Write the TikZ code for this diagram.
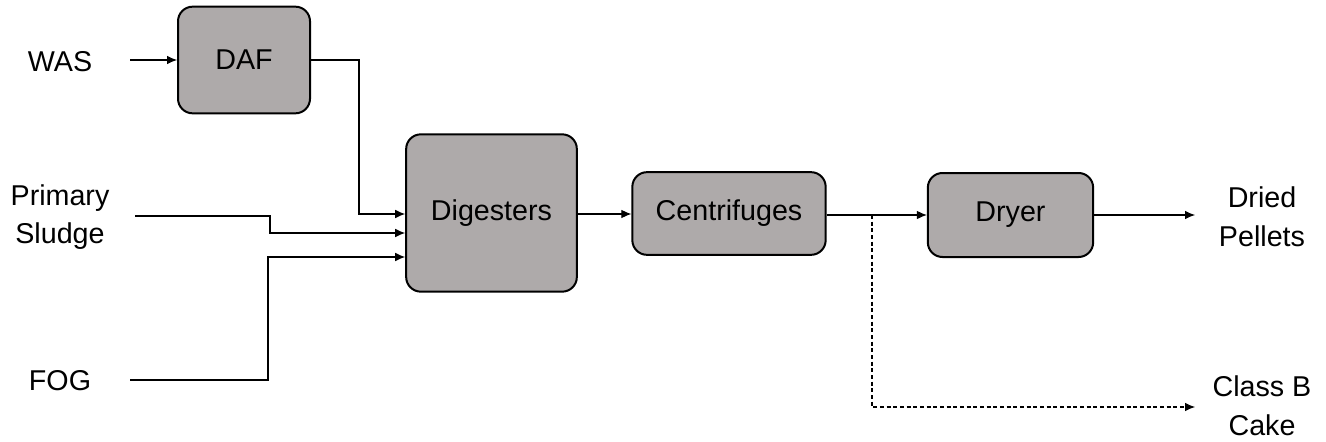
\documentclass[tikz,border=0pt]{standalone}
\usepackage{fontspec}
\setmainfont{Liberation Sans}
\usetikzlibrary{arrows.meta}
\begin{document}
\begin{tikzpicture}[x=0.75pt,y=-0.75pt,
  unit/.style={draw=black, line width=1.5pt, fill=boxgrey, rounded corners=11pt,
    inner sep=0pt, font=\fontsize{21.5}{26}\selectfont},
  lbl/.style={align=center, font=\fontsize{21.5}{29}\selectfont, inner sep=0pt},
  flow/.style={draw=black, line width=0.8pt, -{Latex[length=7.5pt,width=6.5pt]}},
  alt/.style={flow, dashed, dash pattern=on 3pt off 2pt}]
\definecolor{boxgrey}{HTML}{AEAAAA}
\useasboundingbox (0,0) rectangle (1326,442);

% process units
\node[unit, minimum width=99pt, minimum height=80pt] (daf) at (244,60) {DAF};
\node[unit, minimum width=128pt, minimum height=118pt] (dig) at (491.5,213) {Digesters};
\node[unit, minimum width=145pt, minimum height=62pt] (cen) at (729,213.5) {Centrifuges};
\node[unit, minimum width=124pt, minimum height=63pt] (dry) at (1010.5,215) {Dryer};

% feeds and products
\node[lbl] (was) at (60,62) {WAS};
\node[lbl] (ps) at (60,217) {Primary\\Sludge};
\node[lbl] (fog) at (60,381) {FOG};
\node[lbl] (dp) at (1262,217) {Dried\\Pellets};
\node[lbl] (cb) at (1262,406) {Class B\\Cake};

% connector end points
\coordinate (wasS) at (130,60);
\coordinate (psS) at (135,216);
\coordinate (fogS) at (130,380);
\coordinate (split) at (872,215);
\coordinate (dpE) at (1195,215);
\coordinate (cbE) at (1195,407);

% flows
\draw[flow] (wasS) -- (daf.west |- wasS);
\draw[flow] (daf.east |- 0,60) -| (359,214) -- (dig.west |- 0,214);
\draw[flow] (psS) -| (270,233) -- (dig.west |- 0,233);
\draw[flow] (fogS) -| (268,257) -- (dig.west |- 0,257);
\draw[flow] (dig.east |- 0,214) -- (cen.west |- 0,214);
\draw[flow] (cen.east |- 0,215) -- (dry.west |- 0,215);
\draw[alt] (split) |- (cbE);
\draw[flow] (dry.east |- dpE) -- (dpE);
\end{tikzpicture}
\end{document}
